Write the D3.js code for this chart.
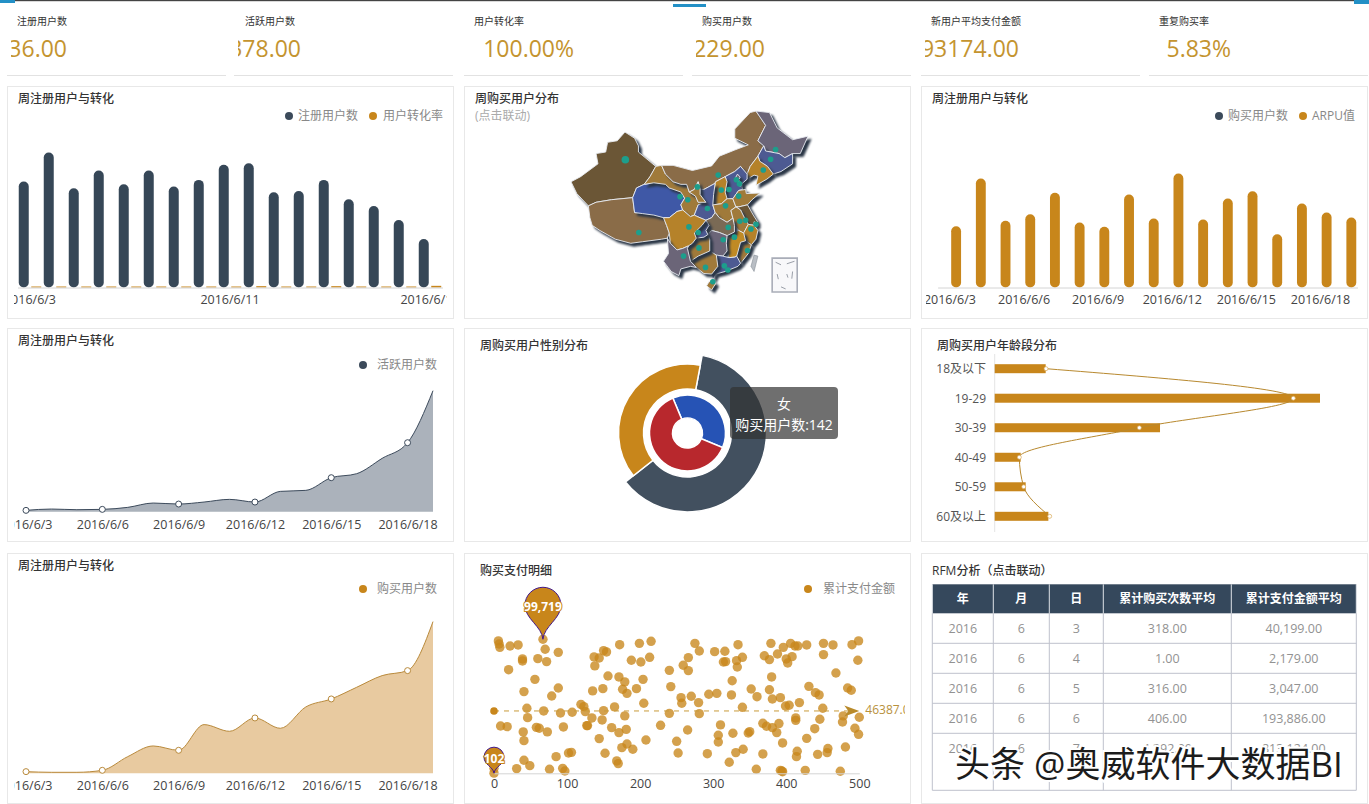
<!DOCTYPE html>
<html><head><meta charset="utf-8">
<script src="https://cdn.jsdelivr.net/npm/d3@7"></script>
<style>
html,body{margin:0;padding:0;background:#fff;overflow:hidden}
svg{display:block;font-family:"Open Sans","Noto Sans CJK SC",sans-serif}
svg text{font-family:"Open Sans","Noto Sans CJK SC",sans-serif}
</style></head><body><svg id="c" width="1369" height="804"></svg>
<script>
// ---------- data ----------
const dates=["2016/6/3","2016/6/4","2016/6/5","2016/6/6","2016/6/7","2016/6/8","2016/6/9","2016/6/10","2016/6/11","2016/6/12","2016/6/13","2016/6/14","2016/6/15","2016/6/16","2016/6/17","2016/6/18","2016/6/19"];
const kpiNames=["注册用户数","活跃用户数","用户转化率","购买用户数","新用户平均支付金额","重复购买率"];
const kpiValues=["36.00","378.00","100.00%","229.00","93174.00","5.83%"];
const registered=[317,404,297,350,309,350,302,322,367,372,285,289,322,264,244,202,145];
const conversion=[3,3,3,3,3,3,3,3,3,4,3,3,4,3,3,3,5];
const arpu=[184,327,200,220,284,195,182,279,207,342,204,267,289,160,252,225,210];
const active=[4,8,6,7,13,26,23,29,37,29,61,64,102,114,160,207,363];
const buyers=[5,3,3,9,50,82,69,146,126,166,135,199,223,258,293,308,455];
const genderNames=["女","男"];
const genderValues=[142,236];
const outerNames=["新用户","老用户"];
const outerValues=[221,139];
const ageNames=["18及以下","19-29","30-39","40-49","50-59","60及以上"];
const ageBars=[153,976,496,78,93,161];
const ageLine=[154,896,434,74,87,165];
const payIndex=[6,7,8,22,33,67,70,88,39,39,60,72,20,56,88,41,79,45,68,91,107,46,9,18,58,62,73,95,40,41,41,49,31,76,85,94,97,102,106,0,0,
137,144,150,154,138,172,199,215,188,201,213,156,171,179,204,149,135,176,182,195,205,119,123,125,134,150,165,179,148,127,128,161,171,181,144,208,182,175,190,152,168,170,
228,240,240,242,256,257,270,280,281,259,266,266,275,281,302,316,314,317,332,340,333,334,326,294,305,325,340,310,265,250,252,292,307,307,327,348,350,331,341,322,359,368,
352,360,377,381,392,380,379,370,377,388,396,406,412,416,428,451,464,490,499,451,408,400,402,498,468,431,440,445,484,489,399,404,418,450,478,477,500,446,413,413,368,373,381,390,387,395,439,494,499,428,481,457,456,443,415,414,426,394,392,395,474];
const payAmount=[98.5,96.2,93.7,94.7,95.5,99.719,92.3,90,85.1,83.6,85.3,83.1,77.1,69.9,63.5,60.8,57.5,48.4,46.4,44.9,45.4,41.4,35.2,34.7,34.2,33.5,30.8,34.5,30.8,24.3,9.7,5.7,3.5,3,12.4,3.7,1.7,15.1,15.6,3.7,0.102,
86.6,85.8,91.3,90.3,79.9,95.7,96.7,98.2,84.1,82.8,86.3,72.4,71.7,68,69.9,63,61.3,62.5,59.5,63,52.1,51.3,49.6,45.9,41.2,46.6,49.4,42.7,39.7,35.5,35.5,34,30.3,32.7,25.8,24.8,21.8,19.1,17.9,14.9,9.2,7.2,
35.7,44.6,76.6,64.5,56.3,52.1,57.3,52.6,44.4,80.4,86.1,76.4,96.7,91,90.5,90.8,82.8,83.1,83.8,86.3,79.1,95.7,68.9,58.8,59.5,58.3,49.1,36,32.2,23.8,15.1,14.6,28.3,23.3,29.8,30,31,15.4,17.9,8.2,3,14.4,
62.7,57,62.2,55.3,56.3,71.7,96.7,87.5,84.6,88.8,93.7,96.7,94.7,94.7,95.5,96.7,95.5,95.7,98.5,88.3,86.8,85.1,82.1,84.1,74.6,64.7,60,58.3,63.5,61.8,50.1,50.6,52.6,48.4,42.7,38.2,41.7,40.2,41.2,39.4,37.2,35,34,37,30.3,22.6,33.2,33.5,29,26,19.6,18.4,15.4,14.1,16.4,12.4,2.2,1.7,2.2,1.2,1.5];
const payMean=46387;
const tableHead=["年","月","日","累计购买次数平均","累计支付金额平均"];
const tableRows=[["2016","6","3","318.00","40,199.00"],["2016","6","4","1.00","2,179.00"],["2016","6","5","316.00","3,047.00"],["2016","6","6","406.00","193,886.00"],["2016","6","7","4,392.00","813,124.00"]];
// simplified province outlines [lon,lat]
const provinces=[
["新疆",4,[[73.5,39.5],[75,37.2],[78,34.8],[80,35.5],[84,36],[89.5,36.4],[90.5,38.3],[92.5,39],[94,40.5],[95.5,42.5],[91,45.3],[91,46.5],[90,48],[87.5,49.2],[85.5,47.5],[83,47.2],[82.5,45.3],[80,45],[80.5,43],[76,40.5]]],
["西藏",5,[[78,34.8],[78.4,32.5],[79,31],[81,30],[85,28.3],[89,27.5],[92,27.8],[97,28.3],[98.5,28.5],[99,29.5],[98.3,31],[97.5,32.5],[95,33],[92,33.3],[90,33.5],[89.5,36.4],[84,36],[80,35.5]]],
["青海",0,[[89.5,36.4],[90.5,38.3],[92.5,39],[95,39.3],[98,39],[99,38.3],[102,37.5],[103,36.3],[102,35],[102.5,34],[101,33.7],[99,32.5],[97.5,32.5],[95,33],[92,33.3],[90,33.5]]],
["甘肃",6,[[92.5,39],[94,40.5],[95.5,42.5],[97,42.7],[98,41],[100,39.5],[102,39],[103.5,39],[104.2,37.5],[105.8,36.7],[106.5,35.5],[108.5,35.5],[106.5,35],[105.5,33],[104.5,32.7],[102.5,34],[102,35],[103,36.3],[102,37.5],[99,38.3],[98,39],[95,39.3]]],
["内蒙古",5,[[97,42.7],[100,42.7],[105,41.7],[110,42.6],[112,44.5],[116,45.7],[119.5,46.7],[116,48],[116,49.8],[120,53],[121.5,53.3],[124,50.5],[122,47.5],[123.5,46.5],[122,44.5],[120,42.5],[119.2,41],[117.5,42.5],[116,41.5],[113.5,40.5],[111,39.5],[110.9,39.2],[108,38],[107,38],[106.5,39.5],[105.5,38],[104.2,37.5],[103.5,39],[102,39],[100,39.5],[98,41]]],
["黑龙江",2,[[121.5,53.3],[125,53],[127,50],[131,47.7],[135,48.4],[133,45],[131,45],[129,44.2],[127.5,45],[124,45.5],[123.5,46.5],[122,47.5],[124,50.5]]],
["吉林",1,[[123.5,46.5],[124,45.5],[127.5,45],[129,44.2],[131,45],[131,43],[128,41.5],[126,41],[124.5,42.5],[122.5,43.5],[122,44.5]]],
["辽宁",7,[[119.2,41],[120,42.5],[122,44.5],[122.5,43.5],[124.5,42.5],[126,41],[124.3,40],[121.5,38.8],[122,40.6],[121,40.8],[119.2,40]]],
["河北",1,[[114,36.2],[113.5,37.5],[114,39.5],[113.5,40.5],[116,41.5],[117.5,42.5],[119.2,41],[119.2,40],[117.8,39.1],[118,38],[117,37.8],[115.5,36.2]]],
["北京",2,[[116,40],[116.7,41],[117.4,40.4],[116.7,39.6]]],
["天津",5,[[117,39.8],[117.8,39.1],[117.4,38.6],[117,39.2]]],
["山西",7,[[110.3,35],[110.5,37],[110.9,39.2],[111,39.5],[113.5,40.5],[114,39.5],[113.5,37.5],[114,36.2],[112.5,35.2]]],
["陕西",1,[[110.9,39.2],[110.5,37],[110.3,35],[110.9,33.5],[110,32.5],[108.5,32],[106,32.8],[105.5,33],[106.5,35],[108.5,35.5],[107,37],[107,38],[108,38]]],
["宁夏",6,[[104.2,37.5],[105.5,38],[106.5,39.5],[107,38],[107,37],[108.5,35.5],[106.5,35.5],[105.8,36.7]]],
["河南",6,[[110.3,35],[112.5,35.2],[114,36.2],[115.5,36.2],[116.3,34.6],[115,33.9],[115.5,32.4],[114,31.6],[112,32.5],[110.9,33.5]]],
["山东",6,[[115.5,36.2],[117,37.8],[118.8,38],[119,37.2],[122.5,37.3],[120.5,36],[119.3,35],[117,34.6],[116.3,34.6]]],
["江苏",4,[[116.3,34.6],[117,34.6],[119.3,35],[120.8,33],[121.9,31.7],[121,31],[119.5,31.2],[118.5,32.5],[117.5,34]]],
["上海",2,[[121,31.7],[121.9,31.3],[121.5,30.8],[121,31]]],
["安徽",6,[[115,33.9],[116.3,34.6],[117.5,34],[118.5,32.5],[119.5,31.2],[118.3,29.5],[117,30],[115.9,31],[115.5,32.4]]],
["浙江",7,[[118.3,29.5],[119.5,31.2],[121,31],[122,30],[121.5,28.3],[120.3,27.2],[118.8,28]]],
["福建",6,[[116.5,25],[117.5,23.6],[119.5,25.5],[120.3,27.2],[118.8,28],[117.5,27.7]]],
["江西",8,[[114,26],[114.5,24.7],[116,24.8],[116.5,25],[117.5,27.7],[118.8,28],[118.3,29.5],[117,30],[115.9,29.7],[114,29],[113.8,27.5]]],
["湖北",3,[[108.5,30],[109.3,31],[108.5,32],[110,32.5],[110.9,33.5],[112,32.5],[114,31.6],[115.5,32.4],[115.9,31],[115.9,29.7],[114,29],[112,29.6],[110,30],[109,29.2]]],
["湖南",2,[[109,29.2],[110,30],[112,29.6],[114,29],[113.8,27.5],[114,26],[112.9,25],[111.2,25.2],[109.5,26],[109.5,28.2]]],
["广东",1,[[110,21.5],[110.3,20.3],[111,21.5],[113.5,22],[116.8,23],[117.5,23.6],[116.5,25],[116,24.8],[114.5,24.7],[112.9,25],[111.2,25.2],[111.6,23]]],
["广西",6,[[104.5,24],[106,22.8],[108,21.6],[110,21.5],[111.6,23],[111.2,25.2],[109.5,26],[106.5,25]]],
["海南",6,[[108.7,19.2],[109.3,20],[110.6,20.1],[111,19.6],[110,18.4]]],
["贵州",6,[[103.7,26.5],[104.5,24],[106.5,25],[109.5,26],[109.5,28.2],[109,29.2],[108,28.7],[106,28.5],[105,27.5],[104,27]]],
["重庆",1,[[105.5,29.5],[106,28.5],[108,28.7],[109,29.2],[108.5,30],[109.3,31],[108.5,32],[107.5,31]]],
["四川",7,[[97.5,32.5],[98.3,31],[99,29.5],[99.3,27.5],[101,26.2],[102.5,26.5],[104,27],[105,27.5],[106,28.5],[105.5,29.5],[107.5,31],[108.5,32],[106,32.8],[105.5,33],[104.5,32.7],[102.5,34],[101,33.7],[99,32.5]]],
["云南",2,[[98.5,28.5],[99.3,27.5],[101,26.2],[102.5,26.5],[104,27],[103.7,26.5],[104.5,24],[106,22.8],[104.5,23],[102,22.5],[101.5,21.2],[99.5,22],[97.5,24],[98.8,25.5]]]
];
const taiwan=[[120.2,23],[121,25.2],[122,25],[121,22]];
const seaBox=[[125.7,24.6],[132.2,24.6],[132.2,18],[125.7,18]];
const seaDashes=[[[126.6,23.8],[128,23.3]],[[129.5,23.5],[131.5,24]],[[127,21.5],[127.3,20.5]],[[131,22],[130.8,20.6]],[[128,19],[129.2,18.6]],[[129.5,21.5],[129.8,20.8]]];
const cities=[[87.6,43.8,2],[91.1,29.6,1],[101.8,36.6,1],[103.8,36,1],[106.3,38.5,1],[111.7,40.8,1],[126.6,45.8,1],[125.3,43.9,1],[123.4,41.8,1],[116.4,39.9,1],[117.2,39.1,1],[114.5,38,1],[112.5,37.9,1],[108.9,34.3,1],[117,36.7,1],[113.6,34.8,1],[118.8,32,1],[117.3,31.8,1],[121.5,31.2,1],[120.2,30.3,1],[114.3,30.6,1],[115.9,28.7,1],[113,28.2,1],[119.3,26.1,1],[104.1,30.7,1],[106.5,29.6,1],[106.7,26.6,1],[102.7,25,1],[108.4,22.8,1],[113.3,23.1,1],[110.3,20,1],[114.2,22.3,1]];

// ---------- styles ----------
const DARK="#3b4a5a",GOLD="#c8861b";
const svg=d3.select("#c");
const defs=svg.append("defs");
function clip(id,x,y,w,h){defs.append("clipPath").attr("id",id).append("rect").attr("x",x).attr("y",y).attr("width",w).attr("height",h);}
function text(s,x,y,o={}){return svg.append("text").text(s).attr("x",x).attr("y",y).attr("dominant-baseline","central")
  .attr("font-size",o.size||12).attr("fill",o.fill||"#333").attr("font-weight",o.weight||"normal").attr("text-anchor",o.anchor||"start");}
function dotLegend(cx,cy,color,label,tx){
  svg.append("circle").attr("cx",cx).attr("cy",cy).attr("r",4).attr("fill",color);
  text(label,tx,cy-1,{fill:"#888"});
}
function styleAxis(g,line){
  g.selectAll(".tick line").remove();
  g.select(".domain").attr("stroke",line?"#d4d4d4":"none").attr("fill","none");
  g.selectAll("text").attr("fill","#444").attr("font-size",12.5);
}

// top strip
svg.append("rect").attr("x",0).attr("y",0).attr("width",1369).attr("height",1.2).attr("fill","#444");
[[0,0,15,3],[673,4,33,3],[1354,0,15,4]].forEach(d=>svg.append("rect").attr("x",d[0]).attr("y",d[1]).attr("width",d[2]).attr("height",d[3]).attr("fill","#2390c6"));

// KPI cards
const kpiX=[7,234,464,692,921,1149], kpiLabelX=[17,245,474,702,931,1159], kpiEnd=[67,301,574,765,1019,1231];
kpiNames.forEach((n,i)=>{
  text(n,kpiLabelX[i],21,{size:10,fill:"#333"});
  clip("k"+i,kpiX[i]+4,30,210,40);
  text(kpiValues[i],kpiEnd[i],47.5,{size:23,fill:"#c4942f",anchor:"end"}).attr("clip-path",`url(#k${i})`);
  svg.append("line").attr("x1",kpiX[i]).attr("x2",kpiX[i]+219).attr("y1",75.5).attr("y2",75.5).attr("stroke","#e2e2e2");
});

// panels
[[7,86,446,232],[464,86,446,232],[921,86,446,232],[7,328,446,213],[464,328,446,213],[921,328,446,213],[7,553,446,250],[464,553,446,250],[921,553,446,250]]
 .forEach(p=>svg.append("rect").attr("x",p[0]+.5).attr("y",p[1]+.5).attr("width",p[2]).attr("height",p[3]).attr("fill","#fff").attr("stroke","#e8e8e8"));
[["周注册用户与转化",18,98],["周购买用户分布",475,98],["周注册用户与转化",932,98],["周注册用户与转化",18,340],["周购买用户性别分布",480,345],["周购买用户年龄段分布",937,345],["周注册用户与转化",18,565],["购买支付明细",480,570],["RFM分析（点击联动）",932,570]]
 .forEach(t=>text(t[0],t[1],t[2],{fill:"#333",weight:500}));
text("(点击联动)",475,115,{fill:"#aaa"});

// bar chart 1
(function(){
  const base=287.5,x=d3.scaleBand().domain(dates).range([17.5,442.5]);
  const x1=d3.scaleBand().domain(["a","b"]).range([0,x.bandwidth()]).paddingInner(.2).paddingOuter(.1);
  const y=d3.scaleLinear().domain([0,404]).range([base,152.5]);
  svg.selectAll(".b1").data(registered).join("rect").attr("x",(d,i)=>x(dates[i])+x1("a")).attr("y",d=>y(d)).attr("width",x1.bandwidth()).attr("height",d=>base-y(d)).attr("rx",5).attr("fill","#364757");
  svg.selectAll(".b1c").data(conversion).join("rect").attr("x",(d,i)=>x(dates[i])+x1("b")).attr("y",d=>y(d)).attr("width",x1.bandwidth()).attr("height",d=>base-y(d)).attr("fill",GOLD);
  const ax=svg.append("g").attr("transform",`translate(0,${base})`).call(d3.axisBottom(x).tickValues([dates[0],dates[8],dates[16]]).tickSize(0).tickPadding(8));
  styleAxis(ax,true);
  clip("c1b",14,-2,433,30);
  ax.attr("clip-path","url(#c1b)");
  dotLegend(289,116,DARK,"注册用户数",298); dotLegend(373,116,GOLD,"用户转化率",383);
})();

// bar chart 3
(function(){
  const base=287.5,x=d3.scaleBand().domain(dates).range([937.6,1357.5]);
  const x1=d3.scaleBand().domain(["a","b"]).range([0,x.bandwidth()]).paddingInner(.2).paddingOuter(.1);
  const y=d3.scaleLinear().domain([0,342]).range([base,173.5]);
  svg.selectAll(".b3").data(arpu).join("rect").attr("x",(d,i)=>x(dates[i])+x1("b")).attr("y",d=>y(d)).attr("width",x1.bandwidth()).attr("height",d=>base-y(d)).attr("rx",5).attr("fill",GOLD);
  const ax=svg.append("g").attr("transform",`translate(0,${base})`).call(d3.axisBottom(x).tickValues(dates.filter((d,i)=>i%3==0&&i<16)).tickSize(0).tickPadding(8));
  styleAxis(ax,true);
  clip("c3b",926,-2,436,30);
  ax.attr("clip-path","url(#c3b)");
  dotLegend(1219,116,DARK,"购买用户数",1228); dotLegend(1303,116,GOLD,"ARPU值",1312);
})();

// area charts
function areaChart(vals,base,scaleMax,scalePx,fill,stroke,id,legendY,legendColor,label){
  const x=d3.scalePoint().domain(dates).range([26,433]);
  const y=d3.scaleLinear().domain([0,scaleMax]).range([base,base-scalePx]);
  const curve=d3.curveMonotoneX;
  svg.append("path").datum(vals).attr("d",d3.area().x((d,i)=>x(dates[i])).y0(base).y1(d=>y(d)).curve(curve)).attr("fill",fill);
  svg.append("path").datum(vals).attr("d",d3.line().x((d,i)=>x(dates[i])).y(d=>y(d)).curve(curve)).attr("fill","none").attr("stroke",stroke).attr("stroke-width",1);
  svg.selectAll("."+id).data(vals.map((v,i)=>[v,i]).filter(d=>d[1]%3==0&&d[1]<16)).join("circle").attr("cx",d=>x(dates[d[1]])).attr("cy",d=>y(d[0])).attr("r",3).attr("fill","#fff").attr("stroke",stroke);
  const ax=svg.append("g").attr("transform",`translate(0,${base})`).call(d3.axisBottom(x).tickValues(dates.filter((d,i)=>i%3==0&&i<16)).tickSize(0).tickPadding(8));
  styleAxis(ax,false);
  clip(id,14,-2,432,30);
  ax.attr("clip-path",`url(#${id})`);
  dotLegend(363,legendY,legendColor,label,377);
}
areaChart(active,511.7,363,121,"#abb2bb","#3d4b5c","a1",365,DARK,"活跃用户数");
areaChart(buyers,773.3,455,151.7,"#e8caa0","#b98a3c","a2",589,GOLD,"购买用户数");

// map
(function(){
  const lon=d3.scaleLinear().domain([73.5,135]).range([571,808]);
  const lat=d3.scaleLinear().domain([53.5,18]).range([110,292]);
  const geo=d3.geoPath(d3.geoTransform({point(a,b){this.stream.point(lon(a),lat(b));}}));
  const palette=["#3f58a6","#4d5a92","#6b6578","#7a6a55","#6b5636","#8a6c48","#a07a3a","#b5822a","#c08a25"];
  const poly=c=>({type:"Polygon",coordinates:[c.concat([c[0]])]});
  const g=svg.append("g").style("filter","blur(0.35px)");
  g.selectAll("path.p").data(provinces).join("path").attr("class","p").attr("d",d=>geo(poly(d[2]))).attr("fill",d=>palette[d[1]])
    .attr("stroke","#e9ecf2").attr("stroke-width",.9).attr("stroke-linejoin","round").style("filter","drop-shadow(3px 3px 0.8px #2a3646)");
  g.append("path").attr("d",geo(poly(taiwan))).attr("fill","#b9bec4").attr("stroke","#8a9098").attr("stroke-width",.6);
  g.append("path").attr("d",geo(poly(seaBox))).attr("fill","#f8f8fa").attr("stroke","#a9adb8").attr("stroke-width",1.6);
  g.append("path").attr("d",geo({type:"MultiLineString",coordinates:seaDashes})).attr("fill","none").attr("stroke","#8f949e").attr("stroke-width",.9);
  g.selectAll("circle").data(cities).join("circle").attr("cx",d=>lon(d[0])).attr("cy",d=>lat(d[1])).attr("r",d=>d[2]==2?3.8:2.8).attr("fill","#1d9e8c");
})();

// donut
(function(){
  const cx=687.5,cy=433;
  const g=svg.append("g").attr("transform",`translate(${cx},${cy})`);
  const deg=Math.PI/180;
  const pieOuter=d3.pie().sort(null).startAngle(10.7*deg).endAngle(370.7*deg)(outerValues);
  const outerR=[79,69],outerC=["#42505f",GOLD];
  g.selectAll(".o").data(pieOuter).join("path").attr("d",(d,i)=>d3.arc().innerRadius(44).outerRadius(outerR[i])(d)).attr("fill",(d,i)=>outerC[i]).attr("stroke","#fff").attr("stroke-width",1.5);
  const pieInner=d3.pie().sort(null).startAngle(-22.7*deg).endAngle(337.3*deg)(genderValues);
  const innerC=["#2653b5","#b8282d"];
  g.selectAll(".i").data(pieInner).join("path").attr("d",d3.arc().innerRadius(15).outerRadius(38)).attr("fill",(d,i)=>innerC[i]).attr("stroke","#fff").attr("stroke-width",1.5);
  svg.append("rect").attr("x",730).attr("y",387).attr("width",108).attr("height",52).attr("rx",4).attr("fill","rgba(50,50,50,.7)");
  text(genderNames[0],784,403,{size:14,fill:"#fff",anchor:"middle"});
  text("购买用户数:"+genderValues[0],784,424,{size:14,fill:"#fff",anchor:"middle"});
})();

// age chart
(function(){
  const x=d3.scaleLinear().domain([0,976]).range([994.7,1320]);
  const y=d3.scalePoint().domain(ageNames).range([368.7,516.3]);
  svg.append("line").attr("x1",994.7).attr("x2",994.7).attr("y1",354).attr("y2",532).attr("stroke","#e4e4e4");
  svg.selectAll(".ab").data(ageBars).join("rect").attr("x",x(0)).attr("y",(d,i)=>y(ageNames[i])-4.5).attr("width",d=>x(d)-x(0)).attr("height",9).attr("fill",GOLD);
  svg.append("path").datum(ageLine).attr("d",d3.line().x(d=>x(d)).y((d,i)=>y(ageNames[i])).curve(d3.curveMonotoneY)).attr("fill","none").attr("stroke","#b8892f").attr("stroke-width",1);
  svg.selectAll(".am").data(ageLine).join("circle").attr("cx",d=>x(d)).attr("cy",(d,i)=>y(ageNames[i])).attr("r",2).attr("fill","#fff").attr("stroke","#d9a957").attr("stroke-width",.7);
  ageNames.forEach(n=>text(n,986,y(n),{fill:"#555",anchor:"end"}));
})();

// scatter
(function(){
  const base=773.3;
  const x=d3.scaleLinear().domain([0,500]).range([494,859.3]);
  const y=d3.scaleLinear().domain([0,100]).range([base,638.9]);
  svg.selectAll(".s").data(payAmount).join("circle").attr("cx",(d,i)=>x(payIndex[i])).attr("cy",d=>y(d)).attr("r",4.7).attr("fill",GOLD).attr("fill-opacity",.78);
  const ax=svg.append("g").attr("transform",`translate(0,${base})`).call(d3.axisBottom(x).tickValues([0,100,200,300,400,500]).tickSize(0).tickPadding(6));
  styleAxis(ax,true);
  const my=y(payMean/1000);
  svg.append("line").attr("x1",x(0)).attr("x2",x(500)-8).attr("y1",my).attr("y2",my).attr("stroke","#c89a3a").attr("stroke-dasharray","5 5").attr("stroke-width",1);
  svg.append("circle").attr("cx",x(0)).attr("cy",my).attr("r",3.8).attr("fill",GOLD);
  const ex=x(500);
  svg.append("path").attr("d",`M${ex},${my}L${ex-15},${my-5.5}L${ex-11},${my}L${ex-15},${my+5.5}Z`).attr("fill","#b98a2a");
  clip("meanClip",860,my-12,45,24);
  text(payMean.toFixed(1),ex+6,my-1,{fill:"#b8913c"}).attr("clip-path","url(#meanClip)");
  function pin(tx,ty,r,h,label,size){
    const top=ty-h, cyy=top+r;
    svg.append("path").attr("d",`M${tx},${ty}C${tx-1},${ty-h*.25} ${tx-r},${cyy+r*.75} ${tx-r},${cyy}A${r},${r} 0 1 1 ${tx+r},${cyy}C${tx+r},${cyy+r*.75} ${tx+1},${ty-h*.25} ${tx},${ty}Z`)
      .attr("fill",GOLD).attr("stroke","#43188a").attr("stroke-width",1);
    svg.append("text").text(label).attr("x",tx).attr("y",cyy+1).attr("dominant-baseline","central").attr("text-anchor","middle").attr("font-size",size).attr("font-weight",700).attr("fill","#fff").attr("stroke",GOLD).attr("stroke-width",2).attr("paint-order","stroke");
  }
  const iMax=payAmount.indexOf(d3.max(payAmount)), iMin=payAmount.indexOf(d3.min(payAmount));
  pin(x(payIndex[iMax]),y(payAmount[iMax]),18,52,d3.format(",")(Math.round(payAmount[iMax]*1000)),12);
  pin(x(payIndex[iMin]),y(payAmount[iMin]),10,26,String(Math.round(payAmount[iMin]*1000)),12);
  dotLegend(808,589,GOLD,"累计支付金额",823);
})();

// table
(function(){
  const cols=[932.3,993.3,1049.3,1103.3,1231.3,1356.3], top=584.3,headB=613.3,bottom=790.3;
  const yRow=d3.scaleLinear().domain([0,5]).range([headB,763.3]);
  svg.append("rect").attr("x",cols[0]).attr("y",top).attr("width",cols[5]-cols[0]).attr("height",headB-top).attr("fill","#35485c");
  tableHead.forEach((h,i)=>text(h,(cols[i]+cols[i+1])/2,(top+headB)/2,{fill:"#fff",weight:700,anchor:"middle"}));
  tableRows.forEach((r,ri)=>{
    r.forEach((v,i)=>text(v,(cols[i]+cols[i+1])/2,yRow(ri)+15,{fill:"#929292",size:12.5,anchor:"middle"}));
    if(ri<4)svg.append("line").attr("x1",cols[0]).attr("x2",cols[5]).attr("y1",yRow(ri+1)).attr("y2",yRow(ri+1)).attr("stroke","#bfc1cc");
  });
  svg.append("line").attr("x1",cols[0]).attr("x2",cols[5]).attr("y1",bottom).attr("y2",bottom).attr("stroke","#bfc1cc");
  cols.forEach((c,i)=>{
    svg.append("line").attr("x1",c).attr("x2",c).attr("y1",top).attr("y2",headB).attr("stroke","#dfe3e8");
    svg.append("line").attr("x1",c).attr("x2",c).attr("y1",headB).attr("y2",bottom).attr("stroke","#bfc1cc");
  });
})();

// watermark
svg.append("text").text("头条 @奥威软件大数据BI").attr("x",955).attr("y",763).attr("dominant-baseline","central")
  .attr("font-size",35).attr("fill","#1c1c1c").attr("stroke","#fff").attr("stroke-width",4).attr("paint-order","stroke");
</script></body></html>
